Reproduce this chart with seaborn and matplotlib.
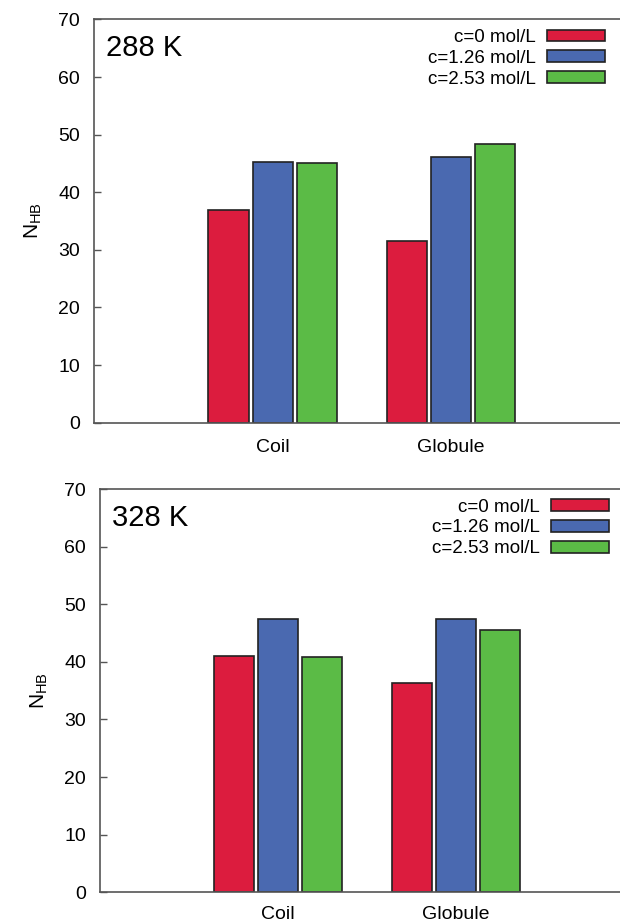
import pandas as pd
import seaborn as sns
import matplotlib.pyplot as plt

# values
states = ["Coil", "Globule"]
concs = ["c=0 mol/L", "c=1.26 mol/L", "c=2.53 mol/L"]
nhb_288 = [[36.9, 45.3, 45.0], [31.6, 46.2, 48.3]]
nhb_328 = [[41.0, 47.4, 40.9], [36.3, 47.4, 45.5]]
temps = ["288 K", "328 K"]
colors = ["#DC1C3E", "#4A69B0", "#5BBB46"]


def to_frame(vals):
    rows = []
    for s, v in zip(states, vals):
        for c, n in zip(concs, v):
            rows.append({"state": s, "conc": c, "nhb": n})
    return pd.DataFrame(rows)


sns.set_style("ticks")
plt.rcParams["font.family"] = ["Liberation Sans", "DejaVu Sans"]
plt.rcParams["mathtext.default"] = "regular"
plt.rcParams["text.color"] = "black"
plt.rcParams["xtick.labelcolor"] = "black"
plt.rcParams["ytick.labelcolor"] = "black"
plt.rcParams["axes.labelcolor"] = "black"

fig = plt.figure(figsize=(6.2, 9.22), dpi=100)
ax1 = fig.add_axes([0.1516, 0.5416, 0.864, 0.4373])
ax2 = fig.add_axes([0.1613, 0.0322, 0.861, 0.4374])

for ax, vals, label, xpad in zip([ax1, ax2], [nhb_288, nhb_328], temps, [12, 10]):
    df = to_frame(vals)
    sns.barplot(data=df, x="state", y="nhb", hue="conc", order=states,
                hue_order=concs, palette=colors, saturation=1, width=0.74,
                gap=0.09, edgecolor="#222222", linewidth=1.2, ax=ax)
    ax.set_xlim(-1, 2)
    ax.set_ylim(0, 70)
    ax.set_yticks(range(0, 71, 10))
    ax.set_xlabel("")
    ax.set_ylabel(r"N$_{HB}$", fontsize=15, labelpad=10)
    ax.tick_params(axis="y", direction="in", length=5, width=1,
                   color="#555555", labelsize=14, pad=10)
    ax.tick_params(axis="x", length=0, labelsize=14, pad=xpad)
    for sp in ax.spines.values():
        sp.set_color("#555555")
        sp.set_linewidth(1.2)
    ax.text(0.022, 0.928, label, transform=ax.transAxes, fontsize=21,
            va="center", ha="left")
    handles, labels = ax.get_legend_handles_labels()
    ax.legend(handles, labels, loc="upper right", bbox_to_anchor=(0.954, 0.976),
              frameon=False, markerfirst=False, fontsize=13.5, borderpad=0,
              borderaxespad=0, handlelength=3.1, handleheight=0.6,
              handletextpad=0.6, labelspacing=0.2)

fig.savefig("out.png", dpi=100)
